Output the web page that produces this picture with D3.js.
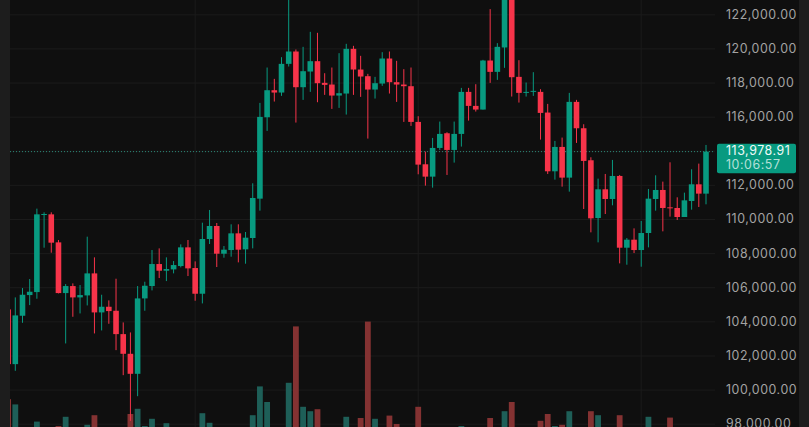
<!DOCTYPE html>
<html>
<head>
<meta charset="utf-8">
<style>
  html, body { margin: 0; padding: 0; background: #0f0f0f; overflow: hidden; }
  svg { display: block; }
</style>
<script src="https://cdn.jsdelivr.net/npm/d3@7"></script>
</head>
<body>
<div id="chart"></div>
<script>
// candle index -1 is the one cut off by the left edge
var opens = [104729, 101521, 104357, 105570, 105746, 110284, 110303, 108660, 105687, 106098, 105433, 105550, 106841, 104553, 104885, 104650, 103281, 102127, 100954, 105374, 106098, 107389, 106998, 107076, 107272, 108367, 107154, 105648, 108856, 109619, 107995, 108210, 109188, 108250, 108915, 111222, 115995, 117579, 117442, 119124, 119848, 117755, 118675, 119281, 118010, 117912, 117266, 117384, 120005, 118792, 118401, 117618, 117970, 119437, 118049, 117912, 117814, 115721, 113237, 112513, 114195, 115056, 114078, 115017, 117481, 116660, 116445, 119320, 118655, 120083, 123300, 118362, 117442, 117501, 117481, 116269, 112826, 114254, 112455, 116895, 115349, 113472, 110088, 111770, 111203, 112552, 108347, 108816, 108210, 109208, 111203, 111731, 110714, 110675, 110146, 111085, 112063, 111516];
var closes = [101521, 104377, 105589, 105765, 110303, 110323, 108641, 105687, 106098, 105433, 105570, 106841, 104553, 104885, 104631, 103281, 102127, 100954, 105374, 106117, 107389, 106998, 107095, 107330, 108367, 107135, 105648, 108856, 109619, 107995, 108230, 109188, 108230, 108934, 111262, 116014, 117579, 117442, 119124, 119848, 117755, 118694, 119281, 117990, 117892, 117266, 117403, 120005, 118792, 118381, 117618, 117990, 119437, 118049, 117912, 117814, 115721, 113217, 112513, 114195, 115017, 114078, 115017, 117481, 116660, 116445, 119320, 118655, 120122, 123100, 118342, 117423, 117481, 117540, 116249, 112826, 114254, 112455, 116895, 115349, 113433, 110068, 111770, 111203, 112552, 108347, 108816, 108210, 109208, 111222, 111731, 110675, 110675, 110146, 111124, 112063, 111516, 113978.91];
var highs = [104729, 105433, 105981, 106509, 110636, 110421, 110421, 108797, 106215, 106254, 106157, 108993, 107780, 105589, 105257, 106528, 103966, 103379, 106098, 106352, 108210, 108308, 107780, 107565, 108543, 108797, 107545, 109814, 110558, 109795, 108445, 109717, 109717, 109267, 112122, 116836, 118909, 118244, 119516, 123100, 119966, 120122, 121002, 120944, 118577, 118909, 119750, 120298, 120181, 119594, 118538, 118362, 119809, 119848, 119301, 118812, 118909, 116054, 113980, 114782, 115741, 115115, 115741, 117716, 117716, 117931, 119360, 122332, 120337, 123300, 123500, 119340, 118029, 118635, 117638, 116777, 114606, 114802, 117423, 117012, 115584, 113648, 112396, 112670, 113491, 112611, 108914, 109481, 109912, 111789, 112591, 112220, 113354, 111300, 111574, 112944, 113276, 114371];
var lows = [101521, 101130, 103946, 104983, 105355, 108347, 108054, 105668, 102734, 104298, 104494, 104963, 103320, 103496, 103888, 102342, 100875, 98196, 99643, 104650, 105844, 106567, 106391, 106841, 107193, 106685, 105237, 105081, 108562, 107213, 107761, 107819, 107487, 107408, 108308, 110518, 115193, 116914, 117247, 118968, 115682, 117012, 117481, 116875, 117305, 116484, 116543, 116151, 117305, 117188, 114743, 117090, 117834, 117384, 116895, 115721, 115486, 112650, 111985, 111868, 114078, 112611, 113335, 114274, 115799, 116327, 116445, 118010, 118186, 118890, 117208, 116856, 117208, 117247, 114684, 112670, 112337, 111926, 111633, 114489, 110616, 109247, 108660, 110322, 110831, 107428, 107349, 108034, 107232, 108366, 110518, 109305, 110166, 109970, 110146, 110577, 110733, 110890];
// volumes in thousands, most of the small ones fall below the crop
var volumes = [10.2, 8.9, 2, 2, 4.6, 2, 2, 3.5, 5.8, 2, 2, 3.8, 6.2, 2, 2, 2, 2, 6.5, 7.8, 3.5, 5.3, 2, 4.2, 2, 2, 2, 2, 6.7, 4.3, 2, 2, 2, 2, 2, 6.2, 13.4, 9.5, 2, 2, 14.3, 28.4, 8.3, 7.2, 7.7, 2, 2, 2, 5.8, 2, 5.5, 29.6, 5.3, 2, 6.1, 4, 2, 2, 8.3, 2, 2, 2, 2, 2, 3.5, 2, 2, 2, 5.5, 2, 7.2, 9.5, 2, 2, 2, 4.8, 6.5, 3.5, 3.8, 7.2, 2, 2, 7.2, 6.2, 2, 2, 6.2, 2, 2, 2, 5.8, 2, 2, 5.6, 2, 2, 2, 2, 2];
var gridTicks = [122000, 120000, 118000, 116000, 114000, 112000, 110000, 108000, 106000, 104000, 102000, 100000, 98000];
// 114,000 sits under the last price tag, so it has no label
var labelTicks = [122000, 120000, 118000, 116000, 112000, 110000, 108000, 106000, 104000, 102000, 100000, 98000];
var monthStarts = [25, 56, 87];
var lastPrice = 113978.91;
var countdown = "10:06:57";

var width = 809, height = 427;
var green = "#089a80", red = "#f7344a";
var labelFont = "Inter, 'Noto Sans', sans-serif";

var svg = d3.select("#chart").append("svg")
  .attr("width", width)
  .attr("height", height);

var x = d3.scaleLinear().domain([0, 96]).range([15.3, 706]);
var y = d3.scaleLinear().domain([98000, 122000]).range([424.2, 14.8]);
var yVol = d3.scaleLinear().domain([0, 30]).range([440, 320]);

svg.append("clipPath").attr("id", "pane")
  .append("rect").attr("x", 10).attr("y", 0).attr("width", 705).attr("height", height);

// side strips
svg.append("rect").attr("width", 10).attr("height", height).attr("fill", "#1d1d1d");
svg.append("rect").attr("x", 799).attr("width", 10).attr("height", height).attr("fill", "#1d1d1d");

var pane = svg.append("g").attr("clip-path", "url(#pane)");

// grid
pane.selectAll(".hgrid").data(gridTicks).enter().append("line")
  .attr("x1", 10).attr("x2", 715)
  .attr("y1", function(d) { return y(d); })
  .attr("y2", function(d) { return y(d); })
  .attr("stroke", "#1b1b1b");

pane.selectAll(".vgrid").data(monthStarts).enter().append("line")
  .attr("x1", function(d) { return x(d); })
  .attr("x2", function(d) { return x(d); })
  .attr("y1", 0).attr("y2", height)
  .attr("stroke", "#1b1b1b");

var rows = d3.range(opens.length).map(function(i) {
  return { i: i - 1, o: opens[i], c: closes[i], h: highs[i], l: lows[i], v: volumes[i] };
});

function isUp(d) { return d.c >= d.o; }

// volume goes behind the candles
pane.selectAll(".vol").data(rows).enter().append("rect")
  .attr("x", function(d) { return x(d.i) - 2.9; })
  .attr("width", 5.8)
  .attr("y", function(d) { return yVol(d.v); })
  .attr("height", function(d) { return yVol(0) - yVol(d.v); })
  .attr("fill", function(d) { return isUp(d) ? "#1e5f58" : "#843232"; });

// last price line
pane.append("line")
  .attr("x1", 10).attr("x2", 716)
  .attr("y1", y(lastPrice)).attr("y2", y(lastPrice))
  .attr("stroke", "#2c8a79")
  .attr("stroke-width", 1)
  .attr("stroke-dasharray", "1 2");

var candle = pane.selectAll(".candle").data(rows).enter().append("g");

candle.append("line")
  .attr("x1", function(d) { return x(d.i); })
  .attr("x2", function(d) { return x(d.i); })
  .attr("y1", function(d) { return y(d.h); })
  .attr("y2", function(d) { return y(d.l); })
  .attr("stroke", function(d) { return isUp(d) ? green : red; })
  .attr("stroke-width", 1);

candle.append("rect")
  .attr("x", function(d) { return x(d.i) - 2.8; })
  .attr("width", 5.6)
  .attr("y", function(d) { return y(Math.max(d.o, d.c)); })
  .attr("height", function(d) { return Math.max(1, Math.abs(y(d.o) - y(d.c))); })
  .attr("fill", function(d) { return isUp(d) ? green : red; });

// price axis
var axis = svg.append("g")
  .attr("transform", "translate(726,-0.5)")
  .call(d3.axisRight(y).tickValues(labelTicks).tickSize(0).tickPadding(0).tickFormat(d3.format(",.2f")));

axis.select(".domain").remove();
axis.selectAll("text")
  .attr("font-family", labelFont)
  .attr("font-size", 12.4)
  .attr("letter-spacing", "0.55")
  .attr("fill", "#a3a3a3");

// last price tag
svg.append("rect")
  .attr("x", 717).attr("y", 143.7)
  .attr("width", 79).attr("height", 29.6)
  .attr("rx", 2)
  .attr("fill", green);

svg.append("text")
  .attr("x", 726).attr("y", 155.3)
  .attr("font-family", labelFont)
  .attr("font-size", 12.4)
  .attr("letter-spacing", "0.55")
  .attr("fill", "#f0faf8")
  .text(d3.format(",.2f")(lastPrice));

svg.append("text")
  .attr("x", 726).attr("y", 168.8)
  .attr("font-family", labelFont)
  .attr("font-size", 12.4)
  .attr("letter-spacing", "0.55")
  .attr("fill", "#b4e0d8")
  .text(countdown);
</script>
</body>
</html>
